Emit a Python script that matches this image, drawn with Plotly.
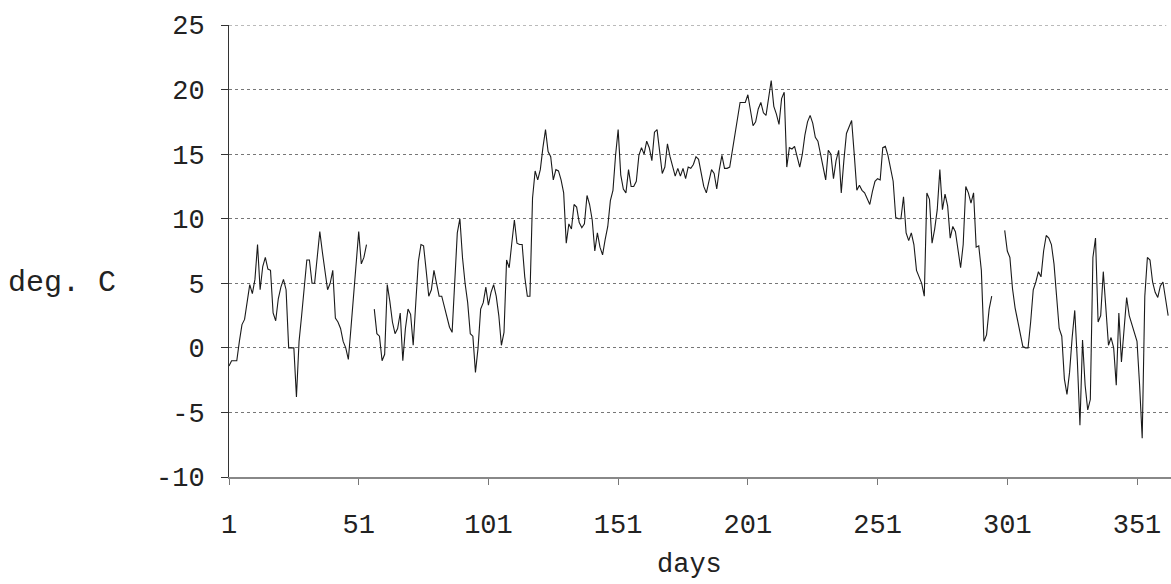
import plotly.graph_objects as go

temps = [
    -1.4, -1.0, -1.0, -1.0, 0.5, 1.8, 2.2, 3.5, 4.9, 4.2,
    5.3, 8.0, 4.5, 6.3, 7.0, 6.1, 6.0, 2.7, 2.1, 3.8,
    4.7, 5.3, 4.5, 0.0, 0.0, 0.0, -3.8, 0.5, 2.5, 4.5,
    6.8, 6.8, 5.0, 5.0, 7.3, 9.0, 7.4, 6.1, 4.5, 5.0,
    6.0, 2.3, 2.0, 1.5, 0.5, 0.0, -0.9, 1.5, 4.0, 6.5,
    9.0, 6.5, 7.0, 8.0, None, None, 3.0, 1.1, 0.9, -1.0,
    -0.5, 4.9, 3.6, 2.0, 1.1, 1.5, 2.7, -1.0, 1.5, 3.0,
    2.6, 0.2, 3.5, 6.7, 8.0, 7.9, 6.0, 4.0, 4.5, 6.0,
    5.0, 4.0, 4.0, 3.2, 2.3, 1.6, 1.2, 5.5, 8.9, 10.0,
    7.0, 5.0, 3.5, 1.1, 0.9, -1.9, 0.0, 3.0, 3.5, 4.7,
    3.3, 4.3, 4.9, 4.0, 2.5, 0.2, 1.2, 6.8, 6.2, 8.1,
    9.9, 8.1, 8.0, 8.0, 5.5, 4.0, 4.0, 11.6, 13.7, 13.0,
    13.8, 15.5, 16.9, 15.2, 14.8, 13.0, 13.8, 13.7, 13.0, 12.0,
    8.1, 9.6, 9.2, 11.1, 10.9, 9.7, 9.3, 9.6, 11.8, 11.1,
    9.9, 7.5, 8.9, 7.8, 7.2, 8.4, 9.4, 11.4, 12.2, 14.9,
    16.9, 13.4, 12.3, 12.0, 13.8, 12.5, 12.5, 12.9, 14.9, 15.5,
    15.0, 16.0, 15.5, 14.5, 16.7, 16.9, 15.0, 13.5, 14.0, 15.8,
    14.8, 14.0, 13.3, 13.9, 13.3, 13.9, 13.1, 14.0, 13.9, 14.2,
    14.8, 14.6, 13.5, 12.5, 12.0, 13.0, 13.8, 13.5, 12.3, 13.8,
    14.9, 13.9, 13.9, 14.0, 15.2, 16.7, 17.7, 19.0, 19.0, 19.0,
    19.6, 18.2, 17.2, 17.5, 18.5, 19.0, 18.2, 18.0, 19.5, 20.7,
    18.7, 18.1, 17.3, 19.3, 19.8, 14.0, 15.5, 15.4, 15.6, 14.9,
    14.0, 15.0, 16.5, 17.5, 18.0, 17.4, 16.3, 16.0, 15.0, 13.8,
    13.0, 15.3, 15.0, 13.1, 14.5, 15.3, 12.0, 14.5, 16.6, 17.1,
    17.6, 15.0, 12.2, 12.6, 12.2, 12.0, 11.5, 11.1, 12.1, 12.9,
    13.1, 13.0, 15.5, 15.6, 14.9, 14.0, 12.9, 10.1, 10.0, 10.0,
    11.7, 8.9, 8.3, 8.9, 8.0, 6.0, 5.5, 5.0, 4.0, 12.0,
    11.5, 8.1, 9.2, 10.7, 13.8, 10.7, 11.9, 11.0, 8.5, 9.4,
    9.0, 7.5, 6.2, 8.0, 12.5, 12.0, 11.2, 12.0, 7.8, 7.9,
    6.0, 0.5, 1.0, 3.0, 4.0, None, None, None, None, 9.1,
    7.5, 7.0, 4.6, 3.1, 2.1, 1.2, 0.1, 0.0, 0.0, 2.0,
    4.5, 5.1, 5.9, 5.5, 7.5, 8.7, 8.5, 8.0, 6.5, 4.0,
    1.5, 0.9, -2.4, -3.6, -1.9, 0.8, 2.9, -1.0, -6.0, 0.6,
    -2.9, -4.8, -4.0, 7.0, 8.5, 2.0, 2.5, 5.9, 3.0, 0.2,
    0.8, 0.0, -2.9, 2.7, -1.1, 1.5, 3.9, 2.5, 1.8, 1.2,
    0.5, -2.9, -7.0, 4.0, 7.0, 6.8, 5.1, 4.3, 3.9, 4.8,
    5.1, 3.8, 2.5,
]
days = list(range(1, len(temps) + 1))

x_ticks = [1, 51, 101, 151, 201, 251, 301, 351]
y_ticks = [-10, -5, 0, 5, 10, 15, 20, 25]

FONT = "Liberation Mono, Courier New, monospace"

fig = go.Figure()
fig.add_trace(go.Scatter(
    x=days, y=temps, mode="lines",
    line=dict(color="#1a1a1a", width=1.1),
    connectgaps=False, showlegend=False, hoverinfo="skip",
))

fig.update_layout(
    width=1171, height=584,
    margin=dict(l=229, r=0, t=25, b=107),
    paper_bgcolor="white", plot_bgcolor="white",
    font=dict(family=FONT, size=27, color="#222"),
    xaxis=dict(
        range=[1, 364.1], tickvals=x_ticks, ticktext=[str(v) for v in x_ticks],
        showgrid=False, zeroline=False,
        showline=True, linecolor="#888", linewidth=1.5,
        ticks="outside", ticklen=6, tickcolor="#777", tickwidth=1,
        ticklabelstandoff=16,
        tickfont=dict(family=FONT, size=27, color="#222"),
    ),
    yaxis=dict(
        range=[-10, 25], tickvals=y_ticks, ticktext=[str(v) for v in y_ticks],
        showgrid=True, gridcolor="#777", griddash="dot", gridwidth=1,
        zeroline=False,
        showline=True, linecolor="#333", linewidth=1,
        ticks="outside", ticklen=7, tickcolor="#333", tickwidth=1,
        ticklabelstandoff=11,
        tickfont=dict(family=FONT, size=27, color="#222"),
    ),
    shapes=[
        dict(type="line", xref="paper", yref="y", x0=0, x1=0.995, y0=25, y1=25,
             line=dict(color="#777", width=1, dash="dot"), layer="below"),
    ],
    annotations=[
        dict(text="deg. C", xref="paper", yref="y", x=-0.237, y=5,
             xanchor="left", yanchor="middle", showarrow=False,
             font=dict(family=FONT, size=30, color="#222")),
        dict(text="days", xref="paper", yref="paper", x=0.489, y=-0.195,
             xanchor="center", yanchor="middle", showarrow=False,
             font=dict(family=FONT, size=27, color="#222")),
    ],
)

fig.write_html("out.html")
